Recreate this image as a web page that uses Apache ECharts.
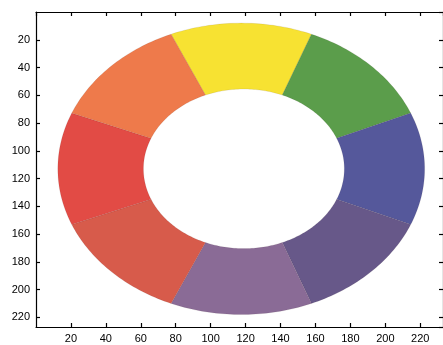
<!DOCTYPE html>
<html>
<head>
<meta charset="utf-8">
<script src="https://cdn.jsdelivr.net/npm/echarts@6/dist/echarts.min.js"></script>
<style>
  html, body { margin: 0; padding: 0; background: #fff; }
  #chart { width: 443px; height: 345px; }
</style>
</head>
<body>
<div id="chart"></div>
<script>
// Colour wheel ring: eight 45° sectors, angles in degrees (0 = right, 90 = up)
const sectorMidAngles = [90, 45, 0, -45, -90, -135, 180, 135];
const sectorSpan = 45;
const sectorColors = ['#F7E232', '#5B9D4B', '#55589B', '#675889', '#8A6B96', '#D75B4B', '#E24B45', '#EE7A4B'];

// Ring geometry in image pixel units
const outerCenter = [117.5, 113];
const outerRadius = 105;
const innerCenter = [119, 113];
const innerRadius = 57.5;

// Axis tick labels
const xTicks = [20, 40, 60, 80, 100, 120, 140, 160, 180, 200, 220];
const yTicks = [20, 40, 60, 80, 100, 120, 140, 160, 180, 200, 220];

const chart = echarts.init(document.getElementById('chart'), null, { renderer: 'canvas' });

const labelFont = { fontFamily: 'Liberation Sans', fontSize: 11, color: '#000' };

function ringPoint(center, r, deg) {
  const a = deg * Math.PI / 180;
  return [center[0] + r * Math.cos(a), center[1] - r * Math.sin(a)];
}

const sectorData = sectorMidAngles.map((m, i) => [m - sectorSpan / 2, m + sectorSpan / 2, i]);

const tickCommon = { show: true, inside: true, length: 4, lineStyle: { color: '#000', width: 1.2 } };
const lineCommon = { show: true, onZero: false, lineStyle: { color: '#000', width: 1.2 } };

chart.setOption({
  animation: false,
  backgroundColor: '#ffffff',
  grid: { left: 36, top: 12, right: -2, bottom: 18, containLabel: false },
  xAxis: [
    {
      type: 'value', min: 0, max: 233, interval: 20, position: 'bottom',
      axisLine: lineCommon, axisTick: tickCommon, splitLine: { show: false },
      axisLabel: Object.assign({
        showMinLabel: false, showMaxLabel: false, margin: 6,
        formatter: v => xTicks.includes(v) ? String(v) : ''
      }, labelFont)
    },
    {
      type: 'value', min: 0, max: 233, interval: 20, position: 'top',
      axisLine: lineCommon, axisTick: tickCommon, splitLine: { show: false },
      axisLabel: { show: false }
    }
  ],
  yAxis: [
    {
      type: 'value', min: 0, max: 227, interval: 20, inverse: true, position: 'left',
      axisLine: lineCommon, axisTick: tickCommon, splitLine: { show: false },
      axisLabel: Object.assign({
        showMinLabel: false, showMaxLabel: false, margin: 6,
        formatter: v => yTicks.includes(v) ? String(v) : ''
      }, labelFont)
    },
    {
      type: 'value', min: 0, max: 227, interval: 20, inverse: true, position: 'right',
      axisLine: lineCommon, axisTick: tickCommon, splitLine: { show: false },
      axisLabel: { show: false }
    }
  ],
  series: [{
    type: 'custom',
    xAxisIndex: 0,
    yAxisIndex: 0,
    data: sectorData,
    encode: { x: -1, y: -1 },
    clip: true,
    renderItem: function (params, api) {
      const a0 = api.value(0), a1 = api.value(1), idx = api.value(2);
      const steps = 40;
      const pts = [];
      for (let k = 0; k <= steps; k++) {
        const a = a0 + (a1 - a0) * k / steps;
        pts.push(api.coord(ringPoint(outerCenter, outerRadius, a)));
      }
      for (let k = steps; k >= 0; k--) {
        const a = a0 + (a1 - a0) * k / steps;
        pts.push(api.coord(ringPoint(innerCenter, innerRadius, a)));
      }
      return {
        type: 'polygon',
        shape: { points: pts },
        style: {
          fill: sectorColors[idx],
          stroke: 'rgba(50,35,35,0.18)',
          lineWidth: 0.5
        }
      };
    }
  }]
});
</script>
</body>
</html>
